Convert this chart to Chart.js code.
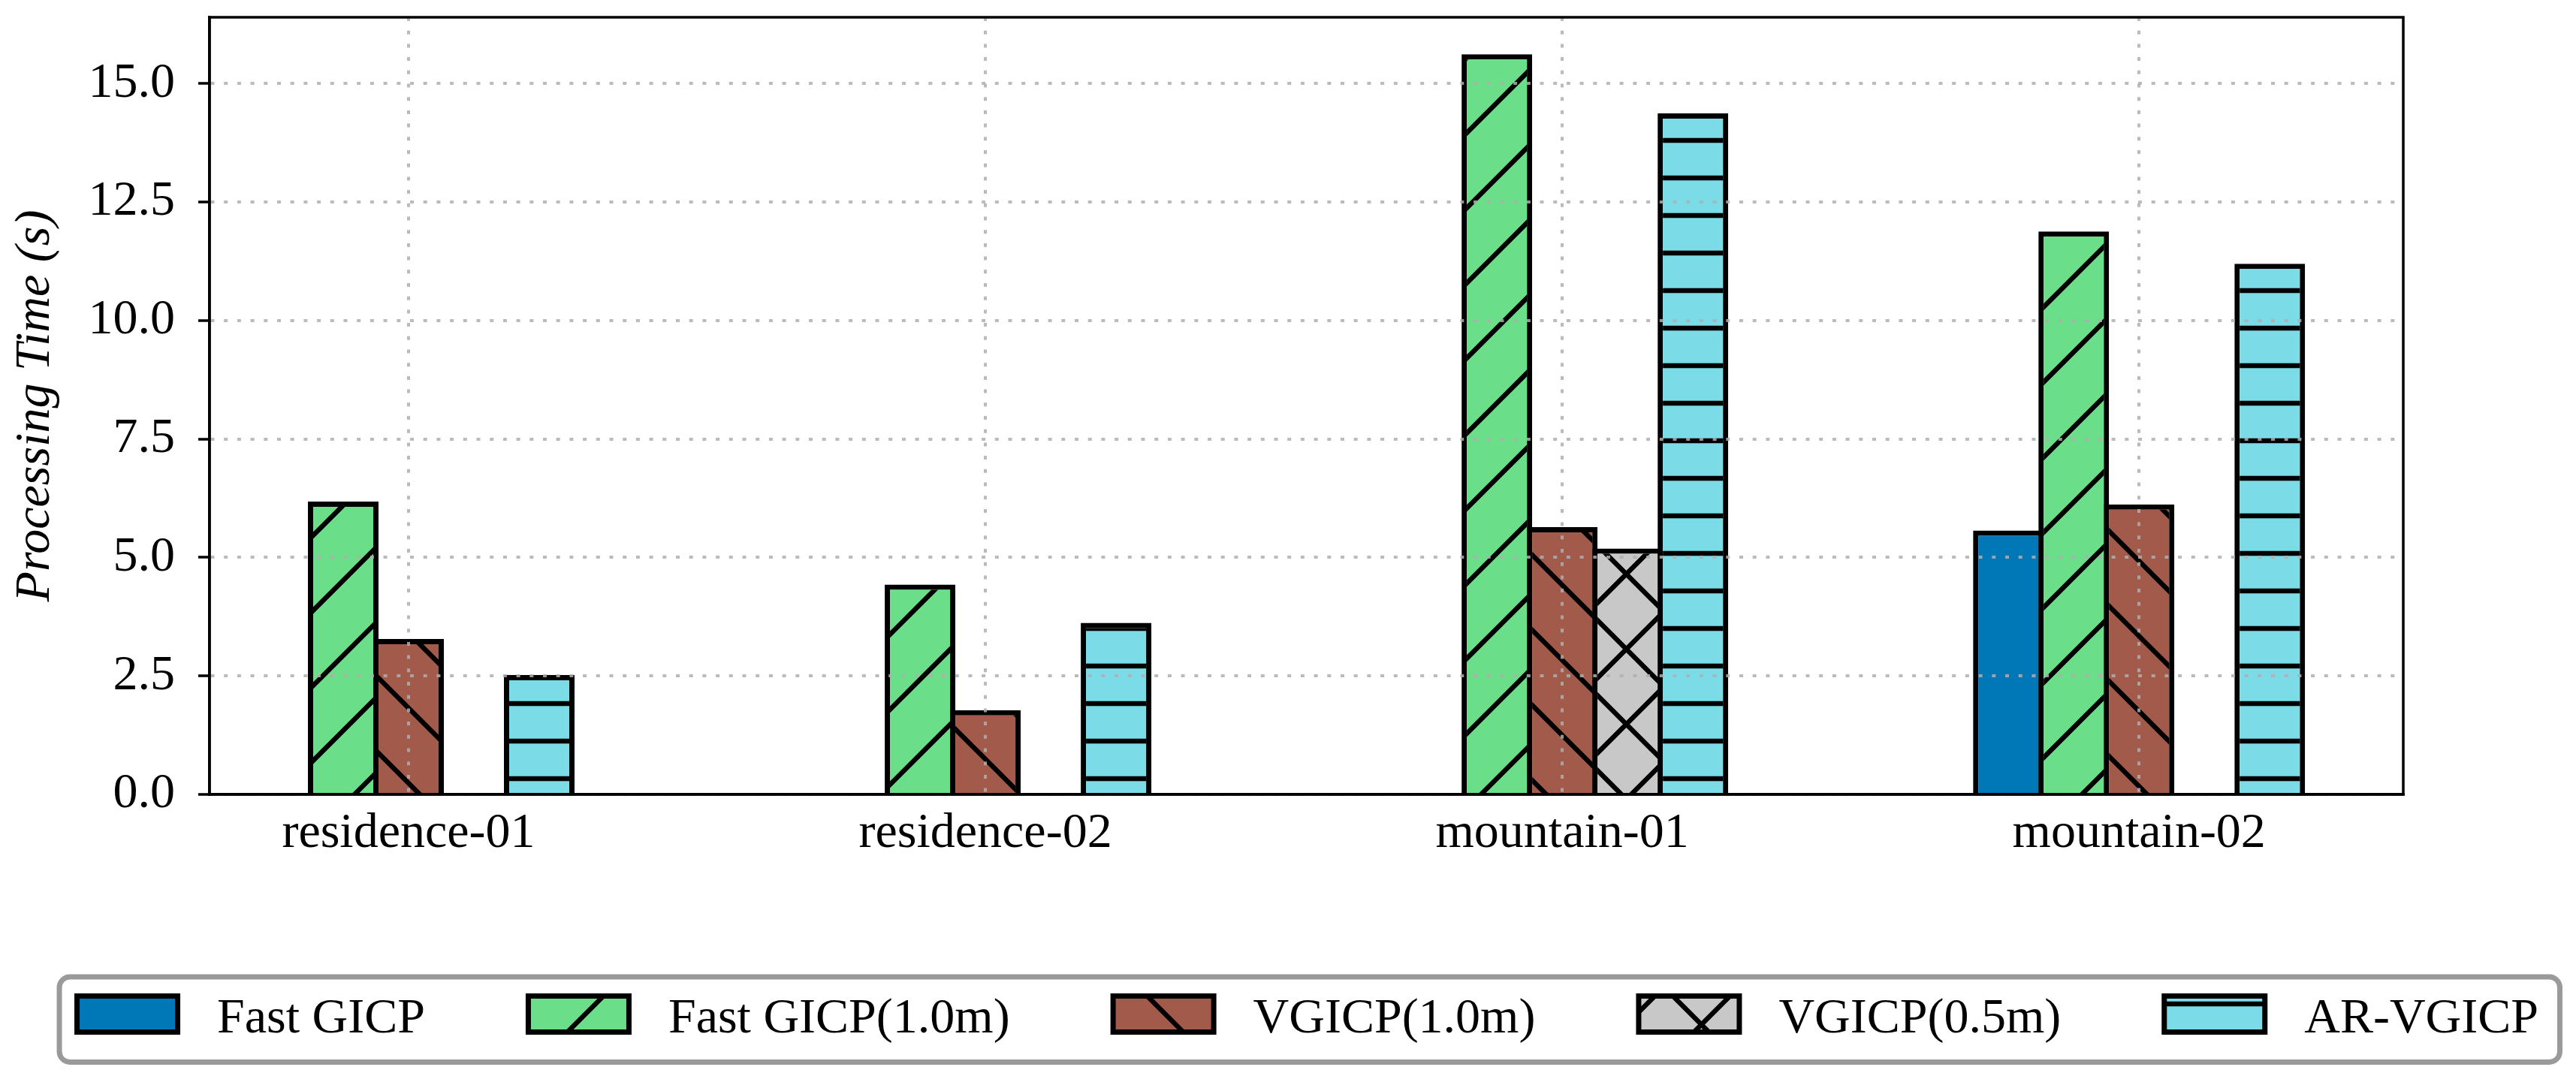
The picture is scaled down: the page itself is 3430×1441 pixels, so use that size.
<!DOCTYPE html>
<html>
<head>
<meta charset="utf-8">
<script src="https://cdn.jsdelivr.net/npm/chart.js@4.4.0/dist/chart.umd.min.js"></script>
<style>
  html, body { margin: 0; padding: 0; background: #ffffff; }
  #wrap { position: absolute; left: 0; top: 0; width: 3430px; height: 1441px; }
  canvas { display: block; }
</style>
</head>
<body>
<div id="wrap"><canvas id="c" width="3430" height="1441"></canvas></div>
<script>
// ---------------- data ----------------
const categories = ['residence-01', 'residence-02', 'mountain-01', 'mountain-02'];
const seriesNames = ['Fast GICP', 'Fast GICP(1.0m)', 'VGICP(1.0m)', 'VGICP(0.5m)', 'AR-VGICP'];
const fastGicp     = [null, null, null, 5.57];
const fastGicp10   = [6.18, 4.43, 15.62, 11.88];
const vgicp10      = [3.28, 1.78, 5.64, 6.12];
const vgicp05      = [null, null, 5.19, null];
const arVgicp      = [2.52, 3.62, 14.37, 11.20];
const yTicks       = [0, 2.5, 5, 7.5, 10, 12.5, 15];

// ---------------- styles ----------------
const seriesColors  = ['#0077b6', '#6ade88', '#a25a4a', '#c8c8c8', '#7bdbe7'];
const seriesHatches = ['', '/', '\\', 'x', '-'];
const seriesValues  = [fastGicp, fastGicp10, vgicp10, vgicp05, arVgicp];
const FONT = '"Liberation Serif", "Times New Roman", Times, serif';
const gridColor = 'rgba(175,175,175,0.85)';

Chart.defaults.font.family = FONT;
Chart.defaults.font.size = 66;
Chart.defaults.color = '#000';

const mainCtx = document.getElementById('c').getContext('2d');

function makeFill(bg, hatch) {
  if (!hatch) return bg;
  const W = 100, H = hatch === '-' ? 50 : 100;
  const t = document.createElement('canvas');
  t.width = W; t.height = H;
  const g = t.getContext('2d');
  g.fillStyle = bg;
  g.fillRect(0, 0, W, H);
  g.strokeStyle = '#000';
  g.lineWidth = 6.5;
  g.beginPath();
  if (hatch === '/' || hatch === 'x') {
    for (const k of [-70, 30, 130, 230]) { g.moveTo(k - 120, 120); g.lineTo(k + 20, -20); }
  }
  if (hatch === '\\' || hatch === 'x') {
    for (const k of [-201, -101, -1, 99, 199]) { g.moveTo(-20, k - 20); g.lineTo(120, k + 120); }
  }
  if (hatch === '-') { g.moveTo(-5, 37); g.lineTo(W + 5, 37); }
  g.stroke();
  return mainCtx.createPattern(t, 'repeat');
}

const X_MIN = -0.345, X_MAX = 3.458;
const PITCH_FRAC = 0.5664;   // share of a category used by the 5 bars
const BAR_OVER = 1.0805;     // bars overlap by one border width like matplotlib edges

const datasets = seriesNames.map((name, i) => ({
  label: name,
  data: seriesValues[i].map((v, j) => ({ x: j, y: v })),
  backgroundColor: makeFill(seriesColors[i], seriesHatches[i]),
  borderColor: '#000000',
  borderWidth: 7,
  borderSkipped: 'start',
  categoryPercentage: PITCH_FRAC,
  barPercentage: BAR_OVER
}));

// full frame around the plot area
const framePlugin = {
  id: 'frame',
  afterDraw(chart) {
    const ca = chart.chartArea, ctx = chart.ctx;
    ctx.save();
    ctx.lineWidth = 3.5;
    ctx.strokeStyle = '#000';
    ctx.strokeRect(ca.left, ca.top, ca.right - ca.left, ca.bottom - ca.top);
    ctx.restore();
  }
};

// legend in a rounded frame below the plot
const boxLegend = {
  id: 'boxLegend',
  afterDraw(chart) {
    const ctx = chart.ctx, ds = chart.data.datasets, H = chart.height;
    ctx.save();
    ctx.font = '66px ' + FONT;
    const sw = 141, sh = 55, gapT = 49, colGap = 134;
    const widths = ds.map(d => ctx.measureText(d.label).width);
    const total = widths.reduce((a, w) => a + sw + gapT + w, 0) + colGap * (ds.length - 1);
    const ca = chart.chartArea;
    let x = (ca.left + ca.right) / 2 - total / 2;
    const fL = x - 20, fR = x + total + 28.5, fT = H - 140, fB = H - 26.5, r = 14;
    ctx.beginPath();
    ctx.moveTo(fL + r, fT);
    ctx.lineTo(fR - r, fT); ctx.arcTo(fR, fT, fR, fT + r, r);
    ctx.lineTo(fR, fB - r); ctx.arcTo(fR, fB, fR - r, fB, r);
    ctx.lineTo(fL + r, fB); ctx.arcTo(fL, fB, fL, fB - r, r);
    ctx.lineTo(fL, fT + r); ctx.arcTo(fL, fT, fL + r, fT, r);
    ctx.closePath();
    ctx.fillStyle = '#ffffff';
    ctx.fill();
    ctx.lineWidth = 7;
    ctx.strokeStyle = '#9a9a9a';
    ctx.stroke();
    const sTop = H - 118;
    ds.forEach((d, i) => {
      ctx.fillStyle = d.backgroundColor;
      ctx.fillRect(x + 3.5, sTop + 3.5, sw - 7, sh - 7);
      ctx.lineWidth = 7;
      ctx.strokeStyle = '#000';
      ctx.strokeRect(x + 3.5, sTop + 3.5, sw - 7, sh - 7);
      ctx.fillStyle = '#000';
      ctx.textAlign = 'left';
      ctx.textBaseline = 'alphabetic';
      ctx.fillText(d.label, x + sw + gapT, H - 66);
      x += sw + gapT + widths[i] + colGap;
    });
    ctx.restore();
  }
};

new Chart(mainCtx, {
  type: 'bar',
  data: { datasets },
  plugins: [framePlugin, boxLegend],
  options: {
    responsive: false,
    animation: false,
    devicePixelRatio: 1,
    events: [],
    layout: { padding: { left: 0, top: 23, right: 230, bottom: 263 } },
    plugins: { legend: { display: false }, tooltip: { enabled: false } },
    scales: {
      x: {
        type: 'linear',
        min: X_MIN, max: X_MAX,
        offset: false,
        grid: { display: true, offset: false, drawTicks: false, color: gridColor, lineWidth: 4, z: 1 },
        border: { display: true, color: '#000', width: 3.5, dash: [5, 12.7], z: 2 },
        ticks: {
          padding: 13, color: '#000', maxRotation: 0, autoSkip: false,
          font: { size: 66 },
          callback: (v) => (categories[v] !== undefined ? categories[v] : '')
        },
        afterBuildTicks: (axis) => { axis.ticks = categories.map((c, i) => ({ value: i })); },
        afterFit: (s) => { s.height = 120; s.paddingLeft = 0; s.paddingRight = 0; s.paddingTop = 0; s.paddingBottom = 0; }
      },
      y: {
        type: 'linear',
        min: 0, max: 16.4,
        grid: { color: gridColor, lineWidth: 4, drawTicks: true, tickLength: 15, tickWidth: 3.5, tickColor: '#000', z: 1 },
        border: { display: true, color: '#000', width: 3.5, dash: [5, 12.7], z: 2 },
        ticks: { padding: 31, color: '#000', font: { size: 66 }, callback: (v) => Number(v).toFixed(1) },
        afterBuildTicks: (axis) => { axis.ticks = yTicks.map(v => ({ value: v })); },
        title: {
          display: true, text: 'Processing Time (s)', color: '#000',
          font: { size: 66, style: 'italic' },
          padding: { top: 8, bottom: 0 }
        },
        afterFit: (s) => { s.width = 279; s.paddingLeft = 0; s.paddingRight = 0; s.paddingTop = 0; s.paddingBottom = 0; }
      }
    }
  }
});
</script>
</body>
</html>
